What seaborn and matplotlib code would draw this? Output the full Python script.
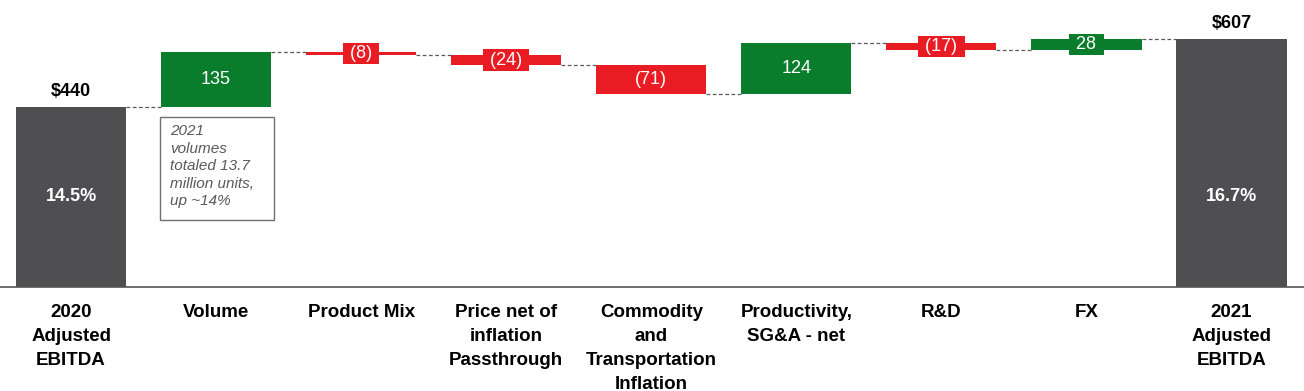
import matplotlib
matplotlib.use("Agg")
import matplotlib.pyplot as plt
from matplotlib.patches import Rectangle
import seaborn as sns
import pandas as pd
import numpy as np

# ---- data ----
categories = ["2020\nAdjusted\nEBITDA", "Volume", "Product Mix", "Price net of\ninflation\nPassthrough",
              "Commodity\nand\nTransportation\nInflation", "Productivity,\nSG&A - net", "R&D", "FX",
              "2021\nAdjusted\nEBITDA"]
start_total = 440
changes = [135, -8, -24, -71, 124, -17, 28]
end_total = 607
margins = ["14.5%", "16.7%"]
note_text = "2021\nvolumes\ntotaled 13.7\nmillion units,\nup ~14%"

GRAY = "#4f4f51"
GREEN = "#0a7d2c"
RED = "#e91c24"

sns.set_theme(style="white")
plt.rcParams["font.family"] = ["Liberation Sans", "DejaVu Sans"]

# waterfall geometry
bottoms, heights, colors, ends = [], [], [], []
bottoms.append(0); heights.append(start_total); colors.append(GRAY); ends.append(start_total)
running = start_total
for c in changes:
    new = running + c
    bottoms.append(min(running, new)); heights.append(abs(c))
    colors.append(GREEN if c > 0 else RED)
    ends.append(new)
    running = new
bottoms.append(0); heights.append(end_total); colors.append(GRAY); ends.append(end_total)

df = pd.DataFrame({"cat": categories, "height": heights, "bottom": bottoms})

fig = plt.figure(figsize=(13.04, 3.91), dpi=100)
ax = fig.add_axes([0, 0.266, 1, 0.734])

W = 0.76
sns.barplot(data=df, x="cat", y="height", hue="cat", palette=colors, width=W,
            legend=False, ax=ax, saturation=1, edgecolor="none", linewidth=0)
for p, b in zip(ax.patches, bottoms):
    p.set_y(b)

ax.set_xlim(-0.49, 8.5)
ax.set_ylim(0, 702)

# connectors
for i in range(len(categories) - 1):
    lvl = ends[i]
    ax.plot([i + W / 2, i + 1 - W / 2], [lvl, lvl], color="#5a5a5a", lw=0.9,
            linestyle=(0, (3, 2)))

# labels
ax.annotate(f"${start_total}", (0, start_total), xytext=(0, 5), textcoords="offset points",
            ha="center", va="bottom", fontsize=13, fontweight="bold", color="black")
ax.annotate(f"${end_total}", (8, end_total), xytext=(0, 5), textcoords="offset points",
            ha="center", va="bottom", fontsize=13, fontweight="bold", color="black")
ax.text(0, 222, margins[0], ha="center", va="center", fontsize=13, fontweight="bold", color="white")
ax.text(8, 222, margins[1], ha="center", va="center", fontsize=13, fontweight="bold", color="white")

for i, c in enumerate(changes, start=1):
    lab = f"{c}" if c > 0 else f"({abs(c)})"
    mid = bottoms[i] + heights[i] / 2
    col = GREEN if c > 0 else RED
    if abs(c) >= 50:
        ax.text(i, mid, lab, ha="center", va="center", fontsize=13, color="white")
    else:
        ax.text(i, mid, f" {lab} ", ha="center", va="center", fontsize=13, color="white",
                bbox=dict(boxstyle="square,pad=0.12", facecolor=col, edgecolor="none"))

# note box under Volume
ax.add_patch(Rectangle((1 - 0.39, 164), 0.79, 252, facecolor="none", edgecolor="#707070", lw=1))
ax.text(0.68, 398, note_text, ha="left", va="top", fontsize=11, style="italic",
        color="#595959", linespacing=1.32)

# axes styling
for s in ["top", "left", "right"]:
    ax.spines[s].set_visible(False)
ax.spines["bottom"].set_color("#555555")
ax.spines["bottom"].set_linewidth(1.2)
ax.set_yticks([])
ax.set_xlabel("")
ax.set_ylabel("")
ax.set_xticks(range(len(categories)))
ax.set_xticklabels(categories, fontsize=13.5, fontweight="bold", color="black", va="top",
                   linespacing=1.55)
ax.tick_params(axis="x", length=0, pad=12)

fig.savefig("out.png", dpi=100)
